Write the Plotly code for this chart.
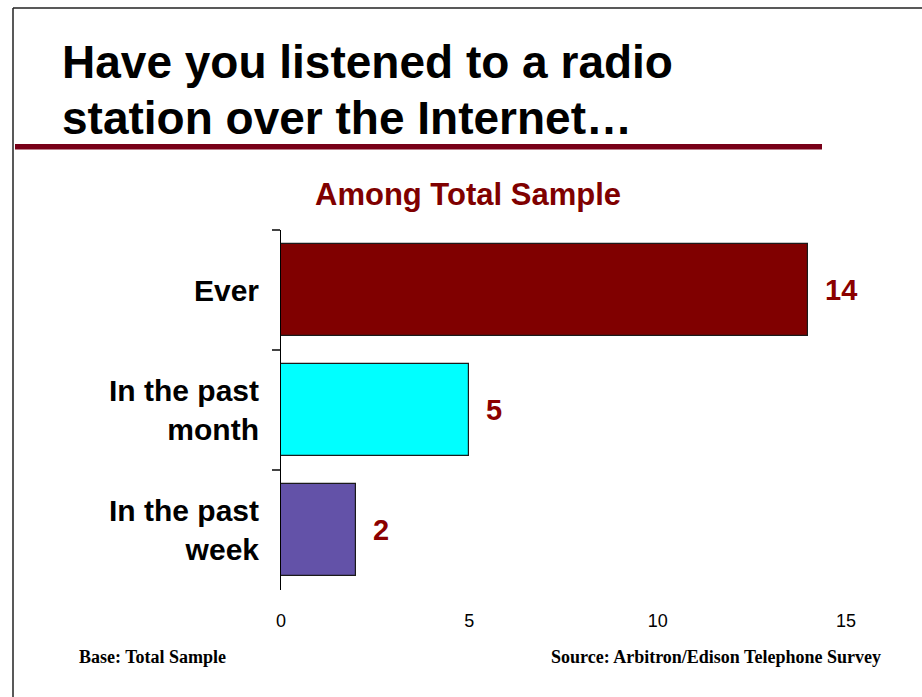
import plotly.graph_objects as go

# Survey data
categories = ["Ever", "In the past<br>month", "In the past<br>week"]
values = [14, 5, 2]
bar_colors = ["#800000", "#00FFFF", "#6352A8"]
x_ticks = [0, 5, 10, 15]
title_lines = ["Have you listened to a radio", "station over the Internet…"]

W, H = 922, 697
L, R, T, B = 281, 76, 230, 107
PW, PH = W - L - R, H - T - B


def px_x(p):
    return (p - L) / PW


def px_y(p):
    return (H - B - p) / PH


fig = go.Figure()
fig.add_trace(go.Bar(
    x=values,
    y=categories,
    orientation="h",
    width=0.77,
    marker=dict(color=bar_colors, line=dict(color="#1a1a1a", width=1.2)),
    hoverinfo="skip",
))

annotations = []
# value labels next to the bars
for cat, v in zip(categories, values):
    annotations.append(dict(
        x=v, y=cat, xref="x", yref="y", text=f"<b>{v}</b>",
        showarrow=False, xanchor="left", yanchor="middle", xshift=15,
        font=dict(family="Liberation Sans, Arial", size=29, color="#8B0000"),
    ))

# slide title, one annotation per line
for line, yc in zip(title_lines, [62, 118]):
    annotations.append(dict(
        x=px_x(60), y=px_y(yc), xref="paper", yref="paper",
        text=f"<b>{line}</b>",
        showarrow=False, xanchor="left", yanchor="middle", align="left",
        font=dict(family="Liberation Sans, Arial", size=46, color="#000000"),
    ))
# chart subtitle
annotations.append(dict(
    x=px_x(468), y=px_y(195), xref="paper", yref="paper",
    text="<b>Among Total Sample</b>", showarrow=False,
    xanchor="center", yanchor="middle",
    font=dict(family="Liberation Sans, Arial", size=31, color="#7F0000"),
))
# footnotes
annotations.append(dict(
    x=px_x(77), y=px_y(657), xref="paper", yref="paper",
    text="<b>Base: Total Sample</b>", showarrow=False,
    xanchor="left", yanchor="middle",
    font=dict(family="Liberation Serif, Times New Roman", size=18, color="#000000"),
))
annotations.append(dict(
    x=px_x(883), y=px_y(657), xref="paper", yref="paper",
    text="<b>Source: Arbitron/Edison Telephone Survey</b>", showarrow=False,
    xanchor="right", yanchor="middle",
    font=dict(family="Liberation Serif, Times New Roman", size=18, color="#000000"),
))

shapes = [
    # slide frame (left and top edges)
    dict(type="line", xref="paper", yref="paper",
         x0=px_x(13), x1=px_x(13), y0=px_y(8), y1=px_y(700),
         line=dict(color="#222222", width=1.5)),
    dict(type="line", xref="paper", yref="paper",
         x0=px_x(13), x1=px_x(925), y0=px_y(8), y1=px_y(8),
         line=dict(color="#222222", width=1.5)),
    # rule under the title
    dict(type="rect", xref="paper", yref="paper",
         x0=px_x(15), x1=px_x(822), y0=px_y(144), y1=px_y(149.5),
         fillcolor="#780018", line=dict(width=0)),
]

fig.update_layout(
    width=W, height=H,
    margin=dict(l=L, r=R, t=T, b=B, pad=0),
    paper_bgcolor="#FFFFFF", plot_bgcolor="#FFFFFF",
    showlegend=False,
    bargap=0,
    annotations=annotations,
    shapes=shapes,
    xaxis=dict(
        range=[0, 15], tickvals=x_ticks, ticktext=[str(t) for t in x_ticks],
        showgrid=False, zeroline=False, showline=False, ticks="",
        ticklabelstandoff=18,
        tickfont=dict(family="Liberation Sans, Arial", size=18, color="#000000"),
        fixedrange=True,
    ),
    yaxis=dict(
        categoryorder="array", categoryarray=categories,
        autorange="reversed",
        showgrid=False, zeroline=False,
        showline=True, linecolor="#000000", linewidth=1,
        ticks="outside", tickson="boundaries", ticklen=8,
        tickcolor="#444444", tickwidth=1.5,
        ticklabelstandoff=15,
        tickfont=dict(family="Liberation Sans, Arial", size=30, color="#000000",
                      weight="bold"),
        fixedrange=True,
    ),
)

fig.write_html("out.html", include_plotlyjs=True, config={"displayModeBar": False})
